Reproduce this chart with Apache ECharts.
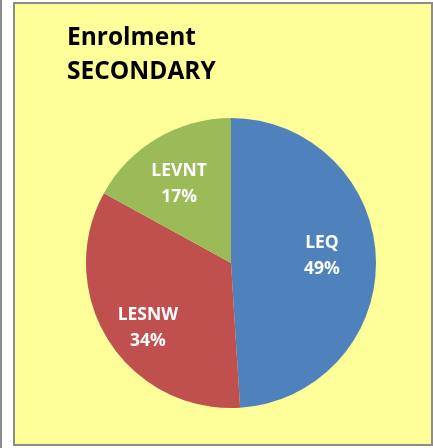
<!DOCTYPE html>
<html>
<head>
<meta charset="utf-8">
<script src="https://cdn.jsdelivr.net/npm/echarts@6/dist/echarts.min.js"></script>
<style>
  html, body { margin: 0; padding: 0; background: #fff; overflow: hidden; }
  #chart { width: 433px; height: 448px; }
</style>
</head>
<body>
<div id="chart"></div>
<script>
  const titleLines = ['Enrolment', 'SECONDARY']
  const categories = ['LEQ', 'LESNW', 'LEVNT']
  const shares = [49, 34, 17]
  const colors = ['#4f81bd', '#c0504d', '#9bbb59']
  // small label nudges so they sit where Excel put them
  const labelNudge = [[-11, -4], [3, 10], [0, 9]]

  const pieData = categories.map((name, i) => ({
    name: name,
    value: shares[i],
    itemStyle: { color: colors[i] }
  }))

  const center = [231, 263]
  const chart = echarts.init(document.getElementById('chart'), null, { renderer: 'canvas' })
  chart.setOption({
    backgroundColor: '#fff',
    animation: false,
    graphic: [
      // thin edge of the neighbouring frame on the far left
      { type: 'rect', z: -10, shape: { x: 0, y: 0, width: 2, height: 448 }, style: { fill: '#8c8c8c' } },
      // chart area frame
      {
        type: 'rect', z: -10,
        shape: { x: 14, y: 3, width: 418, height: 442 },
        style: { fill: '#ffff99', stroke: '#8c8c8c', lineWidth: 2 }
      }
    ],
    title: {
      text: titleLines.join('\n'),
      left: 67,
      top: 21,
      padding: 0,
      textStyle: {
        fontFamily: 'Open Sans',
        fontWeight: 'bold',
        fontSize: 24.5,
        lineHeight: 34,
        color: '#000'
      }
    },
    series: [
      {
        type: 'pie',
        center: center,
        radius: 145,
        startAngle: 90,
        clockwise: true,
        silent: true,
        label: { show: false },
        labelLine: { show: false },
        data: pieData
      },
      {
        // label layer only
        type: 'pie',
        center: center,
        radius: [53, 145],
        startAngle: 90,
        clockwise: true,
        silent: true,
        itemStyle: { color: 'rgba(0,0,0,0)' },
        label: {
          show: true,
          position: 'inside',
          formatter: p => p.name + '\n' + p.value + '%',
          color: '#fff',
          fontFamily: 'Open Sans',
          fontWeight: 'bold',
          fontSize: 17.5,
          lineHeight: 26
        },
        labelLayout: p => ({ dx: labelNudge[p.dataIndex][0], dy: labelNudge[p.dataIndex][1] }),
        labelLine: { show: false },
        data: categories.map((name, i) => ({ name: name, value: shares[i] }))
      }
    ]
  })
</script>
</body>
</html>
